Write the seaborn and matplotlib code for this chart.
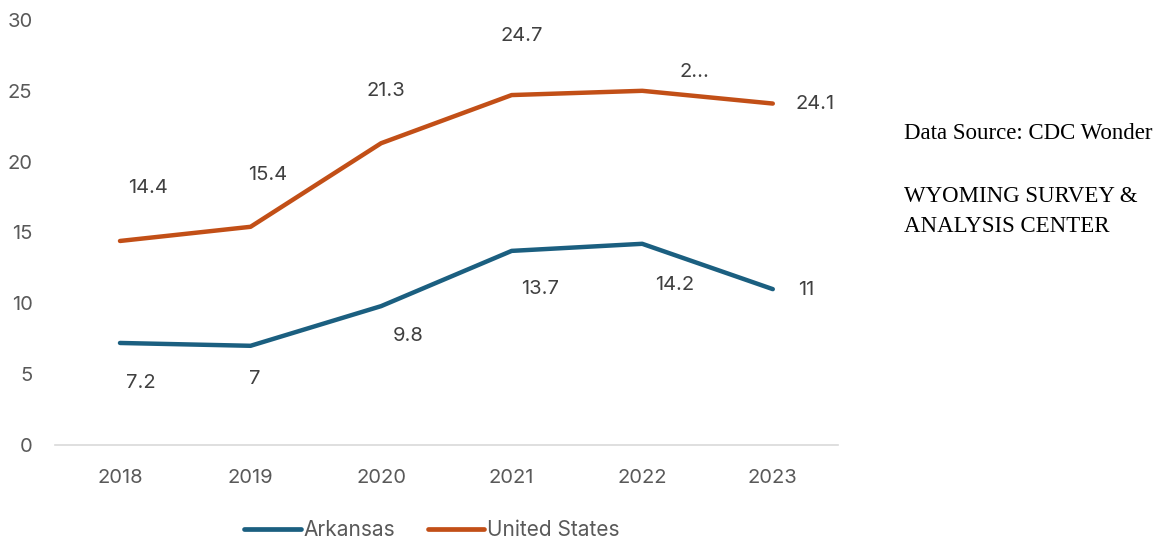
import matplotlib
matplotlib.use("Agg")
import matplotlib.pyplot as plt
import seaborn as sns
import pandas as pd

years = ["2018", "2019", "2020", "2021", "2022", "2023"]
arkansas = [7.2, 7.0, 9.8, 13.7, 14.2, 11.0]
united_states = [14.4, 15.4, 21.3, 24.7, 25.0, 24.1]
series_names = ["Arkansas", "United States"]
colors = ["#1B5F80", "#C24F17"]

# label offsets in pixels (dx, dy) relative to each point
ark_offsets = [(21, -40), (4, -33), (27, -30), (28, -38), (32, -41), (33, -1)]
us_offsets = [(28, 53), (17, 52), (5, 52), (10, 59), (52, 19), (42, 0)]

df = pd.DataFrame({
    "year": years * 2,
    "value": arkansas + united_states,
    "series": [series_names[0]] * len(years) + [series_names[1]] * len(years),
})

sns.set_theme(style="white")
plt.rcParams["font.family"] = ["Inter", "DejaVu Sans"]

FS = 14.5

fig = plt.figure(figsize=(11.64, 5.4), dpi=100)
ax = fig.add_axes([0.047, 0.176, 0.673, 0.787])

sns.lineplot(data=df, x="year", y="value", hue="series", palette=colors,
             linewidth=3.2, ax=ax, legend=False, sort=False)
for line in ax.get_lines():
    line.set_solid_capstyle("round")
    line.set_solid_joinstyle("round")

ax.set_xlim(-0.5, len(years) - 0.5)
ax.set_ylim(0, 30)
ax.set_yticks(range(0, 31, 5))
ax.set_xlabel("")
ax.set_ylabel("")
for side in ["top", "right", "left"]:
    ax.spines[side].set_visible(False)
ax.spines["bottom"].set_color("#D9D9D9")
ax.spines["bottom"].set_linewidth(1.2)
ax.tick_params(axis="both", length=0, labelsize=FS, labelcolor="#595959")
ax.tick_params(axis="y", pad=16)
ax.tick_params(axis="x", pad=17)


def fmt(v):
    return f"{v:g}"


for i, (v, off) in enumerate(zip(arkansas, ark_offsets)):
    ax.annotate(fmt(v), (i, v), xytext=off, textcoords="offset pixels",
                ha="center", va="center", fontsize=FS, color="#404040")
for i, (v, off) in enumerate(zip(united_states, us_offsets)):
    text = "2..." if i == 4 else fmt(v)
    ax.annotate(text, (i, v), xytext=off, textcoords="offset pixels",
                ha="center", va="center", fontsize=FS, color="#404040")

handles = [plt.Line2D([], [], color=c, lw=3.4, solid_capstyle="round") for c in colors]
fig.legend(handles, series_names, loc="center", bbox_to_anchor=(0.371, 0.018),
           ncol=2, frameon=False, fontsize=15, handlelength=2.7,
           handletextpad=0.15, columnspacing=1.55, labelcolor="#595959")

fig.text(0.777, 0.752, "Data Source: CDC Wonder", family="Liberation Serif",
         fontsize=16.5, color="#000000", va="center")
fig.text(0.777, 0.608, "WYOMING SURVEY &\nANALYSIS CENTER", family="Liberation Serif",
         fontsize=16.5, color="#000000", va="center", linespacing=1.6)

fig.savefig("out.png", dpi=100)
